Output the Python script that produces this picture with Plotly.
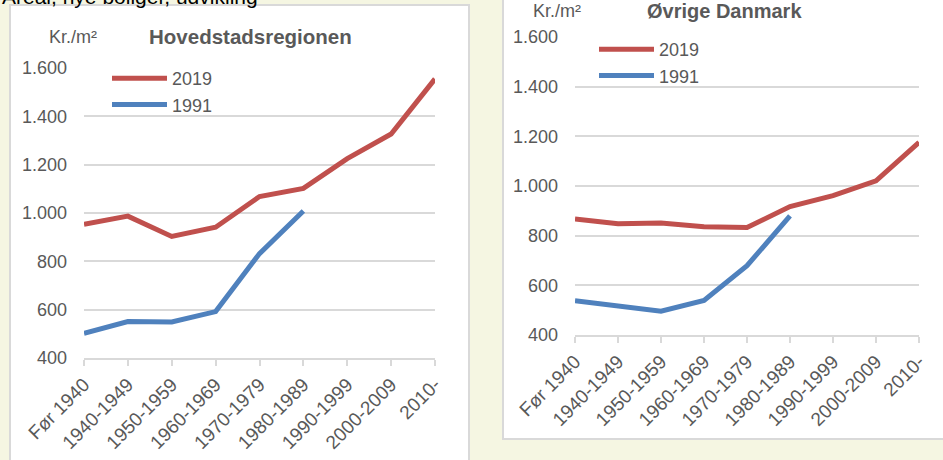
import plotly.graph_objects as go

categories = ["Før 1940", "1940-1949", "1950-1959", "1960-1969", "1970-1979",
              "1980-1989", "1990-1999", "2000-2009", "2010-"]
hoved_2019 = [953, 987, 903, 941, 1068, 1102, 1225, 1327, 1555]
hoved_1991 = [502, 551, 549, 592, 832, 1008, None, None, None]
ovrige_2019 = [867, 848, 851, 836, 833, 917, 961, 1021, 1176]
ovrige_1991 = [538, 519, 496, 539, 679, 880, None, None, None]
y_ticks = [400, 600, 800, 1000, 1200, 1400, 1600]

W, H = 943, 460
RED = "#C0504D"
BLUE = "#4F81BD"
GRID = "#D9D9D9"
TXT = "#595959"
FONT = "Liberation Sans, Arial, sans-serif"

def px(x):
    return x / W

def py(y):
    return 1 - y / H

fig = go.Figure()
fig.add_trace(go.Scatter(x=categories, y=hoved_2019, name="2019", mode="lines",
                         line=dict(color=RED, width=5), xaxis="x", yaxis="y", legend="legend"))
fig.add_trace(go.Scatter(x=categories, y=hoved_1991, name="1991", mode="lines",
                         line=dict(color=BLUE, width=5), xaxis="x", yaxis="y", legend="legend"))
fig.add_trace(go.Scatter(x=categories, y=ovrige_2019, name="2019", mode="lines",
                         line=dict(color=RED, width=5), xaxis="x2", yaxis="y2", legend="legend2"))
fig.add_trace(go.Scatter(x=categories, y=ovrige_1991, name="1991", mode="lines",
                         line=dict(color=BLUE, width=5), xaxis="x2", yaxis="y2", legend="legend2"))

xcommon = dict(type="category", range=[0, len(categories) - 1], showline=True,
               linecolor=GRID, linewidth=2, ticks="outside", ticklen=6, tickcolor=GRID,
               tickwidth=2, tickangle=-45, showgrid=False, zeroline=False,
               tickfont=dict(family=FONT, size=19, color=TXT), fixedrange=True,
               automargin=False)
ycommon = dict(range=[400, 1600], tickvals=y_ticks, tickformat=",", showgrid=True,
               gridcolor=GRID, gridwidth=2, zeroline=False, showline=False,
               ticklabelstandoff=16, automargin=False,
               tickfont=dict(family=FONT, size=18, color=TXT), fixedrange=True)

fig.update_layout(
    width=W, height=H,
    margin=dict(l=0, r=0, t=0, b=0, autoexpand=False),
    paper_bgcolor="#F5F6E2",
    plot_bgcolor="rgba(0,0,0,0)",
    separators=",.",
    xaxis=dict(domain=[px(84), px(435)], anchor="y", **xcommon),
    yaxis=dict(domain=[py(358), py(68)], anchor="x", **ycommon),
    xaxis2=dict(domain=[px(575), px(919)], anchor="y2", **xcommon),
    yaxis2=dict(domain=[py(335), py(37)], anchor="x2", **ycommon),
    legend=dict(x=px(107), y=py(60), xanchor="left", yanchor="top",
                bgcolor="rgba(0,0,0,0)", font=dict(family=FONT, size=18, color=TXT),
                itemwidth=55, tracegroupgap=0),
    legend2=dict(x=px(594), y=py(31), xanchor="left", yanchor="top",
                 bgcolor="rgba(0,0,0,0)", font=dict(family=FONT, size=18, color=TXT),
                 itemwidth=55, tracegroupgap=0),
    shapes=[
        dict(type="rect", xref="paper", yref="paper", x0=px(10), x1=px(469),
             y0=py(475), y1=py(5), fillcolor="white", line=dict(color=GRID, width=2),
             layer="below"),
        dict(type="rect", xref="paper", yref="paper", x0=px(503), x1=px(960),
             y0=py(439), y1=py(-10), fillcolor="white", line=dict(color=GRID, width=2),
             layer="below"),
    ],
    annotations=[
        dict(text="Areal, nye boliger, udvikling", xref="paper", yref="paper",
             x=0, y=py(-4), xanchor="left", yanchor="middle", showarrow=False,
             font=dict(family=FONT, size=21, color="black")),
        dict(text="Kr./m²", xref="paper", yref="paper", x=px(47), y=py(37),
             xanchor="left", yanchor="middle", showarrow=False,
             font=dict(family=FONT, size=18, color=TXT)),
        dict(text="<b>Hovedstadsregionen</b>", xref="paper", yref="paper", x=px(147), y=py(37),
             xanchor="left", yanchor="middle", showarrow=False,
             font=dict(family=FONT, size=20.5, color=TXT)),
        dict(text="Kr./m²", xref="paper", yref="paper", x=px(531), y=py(11),
             xanchor="left", yanchor="middle", showarrow=False,
             font=dict(family=FONT, size=18, color=TXT)),
        dict(text="<b>Øvrige Danmark</b>", xref="paper", yref="paper", x=px(645), y=py(11),
             xanchor="left", yanchor="middle", showarrow=False,
             font=dict(family=FONT, size=20, color=TXT)),
    ],
)

fig.write_html("out.html", config={"displayModeBar": False},
               post_script="document.body.style.margin='0';")
